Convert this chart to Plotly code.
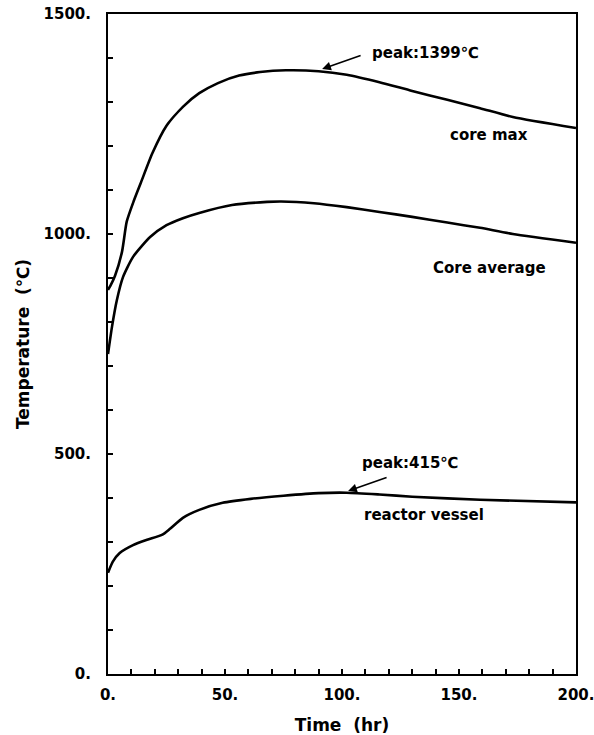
import plotly.graph_objects as go

# Data
core_max_t = [0, 1, 3, 6, 8, 11, 14, 19, 25, 32, 39, 47, 56, 65, 76, 90, 102, 116, 130, 145, 159, 173, 200]
core_max_T = [873, 882, 905, 960, 1028, 1075, 1116, 1184, 1246, 1289, 1320, 1343, 1360, 1368, 1372, 1370, 1362, 1345, 1325, 1305, 1286, 1266, 1241]

core_avg_t = [0, 1.7, 3.8, 6.4, 10.7, 18, 25, 32, 39, 53, 68, 74, 88, 102, 116, 130, 145, 159, 173, 200]
core_avg_T = [727, 789, 850, 902, 948, 993, 1020, 1036, 1048, 1066, 1073, 1074, 1070, 1061, 1050, 1039, 1026, 1014, 1000, 980]

vessel_t = [0, 2, 5, 10.7, 16.7, 23, 26.5, 32, 39, 49, 61, 75, 90, 102, 116, 130, 159, 200]
vessel_T = [230, 255, 275, 293, 305, 316, 330, 355, 373, 389, 398, 405, 411, 412, 408, 403, 396, 390]

x_ticks = [0, 50, 100, 150, 200]
x_labels = ["0.", "50.", "100.", "150.", "200."]
y_ticks = [0, 500, 1000, 1500]
y_labels = ["0.", "500.", "1000.", "1500."]

FONT = "DejaVu Sans"

fig = go.Figure()
for t, T in [(core_max_t, core_max_T), (core_avg_t, core_avg_T), (vessel_t, vessel_T)]:
    fig.add_trace(go.Scatter(x=t, y=T, mode="lines",
                             line=dict(color="black", width=2.6, shape="spline", smoothing=0.6),
                             showlegend=False, hoverinfo="skip"))

# Arrows
fig.add_annotation(x=91.5, y=1375, ax=40, ay=-14, text="", showarrow=True,
                   arrowhead=2, arrowsize=1.1, arrowwidth=1.6, arrowcolor="black")
fig.add_annotation(x=102.6, y=416, ax=40, ay=-14, text="", showarrow=True,
                   arrowhead=2, arrowsize=1.1, arrowwidth=1.6, arrowcolor="black")

labels = [
    (112, 1411, "peak:1399℃", "left"),
    (107.7, 480, "peak:415℃", "left"),
    (162.8, 1225, "core max", "center"),
    (163, 923, "Core average", "center"),
    (135, 361, "reactor vessel", "center"),
]
for x, y, txt, anc in labels:
    fig.add_annotation(x=x, y=y, text=txt, showarrow=False, xanchor=anc,
                       font=dict(family=FONT, size=15, color="black", weight="bold"))

axis_common = dict(showline=True, linecolor="black", linewidth=2, mirror=True,
                   ticks="inside", ticklen=5, tickwidth=1.5, tickcolor="black",
                   showgrid=False, zeroline=False, automargin=False,
                   ticklabeloverflow="allow",
                   tickfont=dict(family=FONT, size=15, color="black", weight="bold"))

fig.update_xaxes(range=[0, 200], tickvals=x_ticks, ticktext=x_labels,
                 minor=dict(dtick=10, tick0=0, ticks="inside", ticklen=5, tickwidth=1.5, tickcolor="black", showgrid=False),
                 title=dict(text="Time  (hr)", font=dict(family=FONT, size=17, color="black", weight="bold"), standoff=18),
                 ticklabelstandoff=6, **axis_common)
fig.update_yaxes(range=[0, 1500], tickvals=y_ticks, ticktext=y_labels,
                 minor=dict(dtick=100, tick0=0, ticks="inside", ticklen=5, tickwidth=1.5, tickcolor="black", showgrid=False),
                 title=dict(text="Temperature  (℃)", font=dict(family=FONT, size=17, color="black", weight="bold"), standoff=10),
                 ticklabelstandoff=12, **axis_common)

fig.update_layout(width=594, height=735, margin=dict(l=108, r=18, t=14, b=61),
                  plot_bgcolor="white", paper_bgcolor="white")

fig.write_html("out.html")
